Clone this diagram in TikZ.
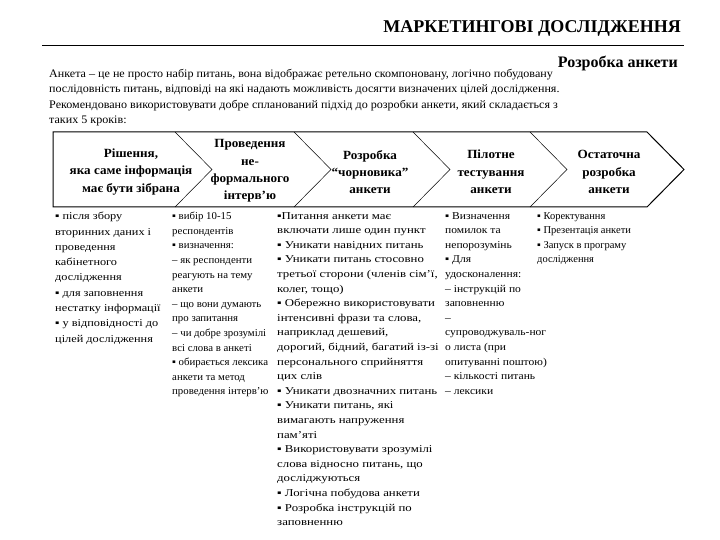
\documentclass[tikz,border=0pt]{standalone}
\usepackage{fontspec}
\setmainfont{Liberation Serif}

\begin{document}
\begin{tikzpicture}[x=1pt,y=-1pt,
    steptext/.style={font=\fontsize{12.5}{17.3}\selectfont\bfseries\addfontfeature{FakeStretch=1.05},align=center,inner sep=0pt},
    colnote/.style={font=\fontsize{10.5}{14.6}\selectfont\addfontfeature{FakeStretch=#1},align=left,anchor=north west,inner sep=0pt},
    notch/.style={line width=0.5pt}]
  \useasboundingbox (0,0) rectangle (720,540);
  % heading
  \node[anchor=east,inner sep=0pt,font=\fontsize{18}{21}\selectfont\bfseries] (title) at (681,28)
    {МАРКЕТИНГОВІ ДОСЛІДЖЕННЯ};
  \coordinate (ruleL) at (42,46);
  \coordinate (ruleR) at (684,46);
  \draw[line width=1pt] (ruleL) -- (ruleR);
  \node[anchor=east,inner sep=0pt,font=\fontsize{16}{18}\selectfont\bfseries] (subtitle) at (678,63)
    {Розробка анкети};
  \node[anchor=north west,inner sep=0pt,align=left,font=\fontsize{11.5}{15.3}\selectfont\addfontfeature{FakeStretch=1.05}] (intro) at (49,69) {
    Анкета – це не просто набір питань, вона відображає ретельно скомпоновану,  логічно побудовану\\
    послідовність питань, відповіді на які надають можливість досягти визначених цілей дослідження.\\
    Рекомендовано використовувати добре спланований підхід до розробки анкети, який складається з\\
    таких 5 кроків:};
  %% chevron band
  \draw[line width=1pt] (53,132) -- (647,132) -- (684,169.5) -- (647,207) -- (53,207) -- cycle;
  \foreach \bx in {175,294,413,530}
    \draw[notch] (\bx,132) -- (\bx+37,169.5) -- (\bx,207);
  \node[steptext] (S1) at (131,172) {Рішення,\\ яка саме інформація\\ має бути зібрана};
  \node[steptext] (S2) at (250,171) {Проведення\\ не-\\ формального\\ інтерв’ю};
  \node[steptext] (S3) at (370,172) {Розробка\\ “чорновика”\\ анкети};
  \node[steptext] (S4) at (491,172) {Пілотне\\ тестування\\ анкети};
  \node[steptext] (S5) at (609,172) {Остаточна\\ розробка\\ анкети};
  %% notes under each step
  \node[colnote=1.17,font=\fontsize{10.5}{15.3}\selectfont\addfontfeature{FakeStretch=1.17}] (N1) at (55,212) {
    ▪ після збору\\
    вторинних даних і\\
    проведення\\
    кабінетного\\
    дослідження\\
    ▪ для заповнення\\
    нестатку інформації\\
    ▪ у відповідності до\\
    цілей дослідження};
  \node[colnote=1.03] (N2) at (172,212) {
    ▪ вибір 10-15\\
    респондентів\\
    ▪ визначення:\\
    – як респонденти\\
    реагують на тему\\
    анкети\\
    – що вони думають\\
    про запитання\\
    – чи добре зрозумілі\\
    всі слова в анкеті\\
    ▪ обирається лексика\\
    анкети та метод\\
    проведення інтерв’ю};
  \node[colnote=1.22] (N3) at (277,212) {
    ▪Питання анкети має\\
    включати лише один пункт\\
    ▪ Уникати навідних питань\\
    ▪ Уникати питань стосовно\\
    третьої сторони (членів сім’ї,\\
    колег, тощо)\\
    ▪ Обережно використовувати\\
    інтенсивні фрази та слова,\\
    наприклад дешевий,\\
    дорогий, бідний, багатий із-зі\\
    персонального сприйняття\\
    цих слів\\
    ▪ Уникати двозначних питань\\
    ▪ Уникати питань, які\\
    вимагають напруження\\
    пам’яті\\
    ▪ Використовувати зрозумілі\\
    слова відносно питань, що\\
    досліджуються\\
    ▪ Логічна побудова анкети\\
    ▪ Розробка інструкцій по\\
    заповненню};
  \node[colnote=1.1] (N4) at (445,212) {
    ▪ Визначення\\
    помилок та\\
    непорозумінь\\
    ▪ Для\\
    удосконалення:\\
    – інструкцій по\\
    заповненню\\
    –\\
    супроводжуваль-ног\\
    о листа (при\\
    опитуванні поштою)\\
    – кількості питань\\
    – лексики};
  \node[colnote=1.0] (N5) at (537,212) {
    ▪ Коректування\\
    ▪ Презентація анкети\\
    ▪ Запуск в програму\\
    дослідження};
\end{tikzpicture}
\end{document}
